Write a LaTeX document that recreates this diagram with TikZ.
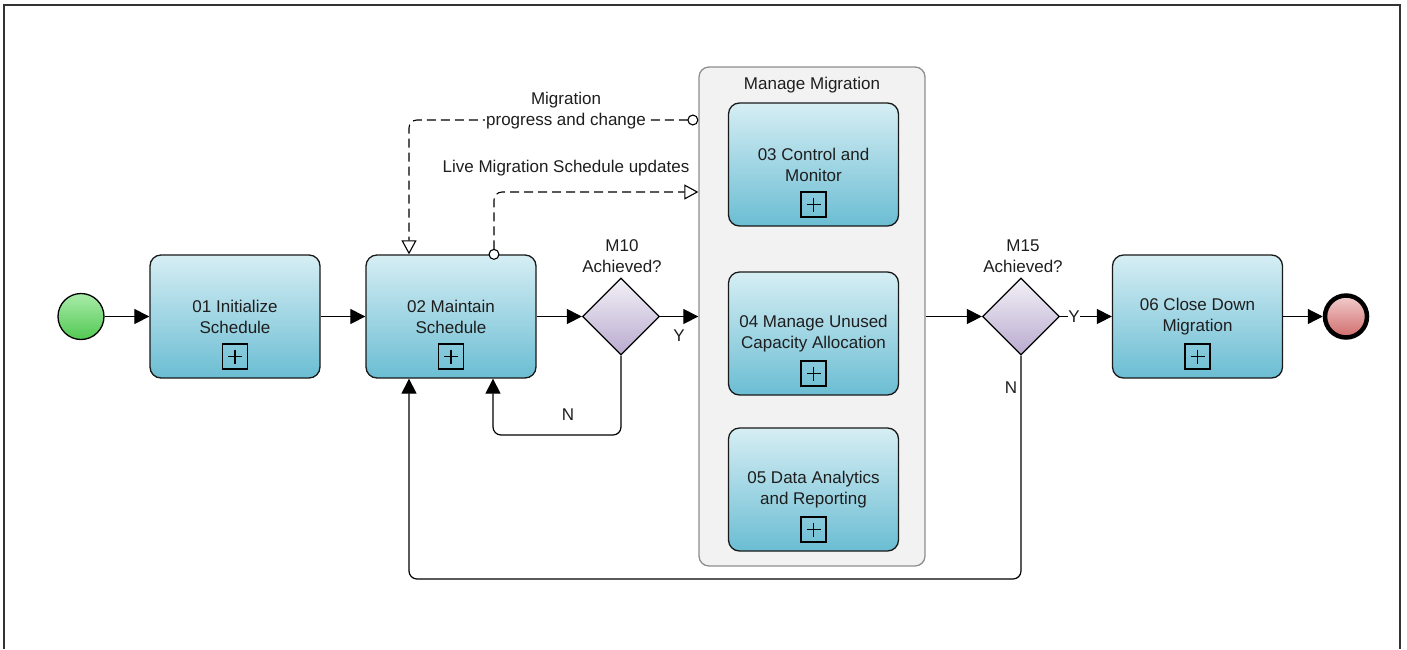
\documentclass[tikz,border=0pt]{standalone}
\usepackage{fontspec}
\setmainfont{Liberation Sans}
\usetikzlibrary{arrows.meta,shapes.geometric,calc}
\definecolor{taskTop}{HTML}{D6EEF4}
\definecolor{taskBot}{HTML}{6BBDD3}
\definecolor{gwTop}{HTML}{F3F1F7}
\definecolor{gwBot}{HTML}{B9AACF}
\definecolor{stTop}{HTML}{A9ECA9}
\definecolor{stBot}{HTML}{52C852}
\definecolor{enTop}{HTML}{F2CDCD}
\definecolor{enBot}{HTML}{D06B6B}
\definecolor{grpFill}{HTML}{F2F2F2}
\definecolor{grpDraw}{HTML}{8E8E8E}
\definecolor{txt}{HTML}{1E1E1E}
\definecolor{frame}{HTML}{333333}
\tikzset{
  lbl/.style={font=\fontsize{17pt}{21pt}\selectfont, text=txt, align=center, inner sep=1pt},
  task/.style={lbl, draw=black!90, line width=1.3pt, rounded corners=11pt, top color=taskTop, bottom color=taskBot, minimum width=170pt, minimum height=123pt, inner sep=2pt},
  plusbox/.style={draw=black, line width=1.3pt, minimum size=25pt, inner sep=0pt, anchor=south,
    path picture={\draw[line width=1.1pt] ($(path picture bounding box.center)+(-7,0)$) -- ($(path picture bounding box.center)+(7,0)$);
                  \draw[line width=1.1pt] ($(path picture bounding box.center)+(0,-7)$) -- ($(path picture bounding box.center)+(0,7)$);}},
  gw/.style={diamond, draw=black, line width=1.3pt, top color=gwTop, bottom color=gwBot, minimum width=77pt, minimum height=77pt, inner sep=0pt},
  flow/.style={line width=1.2pt, draw=black, -{Triangle[length=15pt,width=15pt]}},
  msg/.style={line width=1.1pt, draw=black, dash pattern=on 9pt off 5pt, rounded corners=8pt,
    {Circle[open,length=11pt,width=11pt,fill=white,line width=1.1pt]}-{Triangle[open,length=14pt,width=15pt,fill=white,line width=1.1pt]}},
  grpbox/.style={draw=grpDraw, line width=1.3pt, fill=grpFill, rounded corners=10pt, minimum width=226pt, minimum height=499pt, inner sep=0pt}
}
\begin{document}
\begin{tikzpicture}[x=1pt,y=-1pt]
\useasboundingbox (0,0) rectangle (1407,649);
\draw[line width=2.4pt, draw=frame] (4,649) -- (4,5) -- (1400,5) -- (1400,649);

% group
\node[grpbox] (grp) at (812,316.5) {};
\node[lbl] (grpt) at (812,85) {Manage Migration};

% events
\node[circle, draw=black, line width=1.3pt, top color=stTop, bottom color=stBot, minimum size=46pt, inner sep=0pt] (s) at (81,316.5) {};
\node[circle, draw=black, line width=4.5pt, top color=enTop, bottom color=enBot, minimum size=42pt, inner sep=0pt] (e) at (1346,316.5) {};

% tasks
\node[task] (t1) at (235,316.5) {01 Initialize\\Schedule};
\node[task] (t2) at (451,316.5) {02 Maintain\\Schedule};
\node[task] (t3) at (813.5,164.5) {03 Control and\\Monitor};
\node[task] (t4) at (813.5,333.5) {04 Manage Unused\\Capacity Allocation};
\node[task] (t5) at (813.5,489.5) {05 Data Analytics\\and Reporting};
\node[task] (t6) at (1197.5,316.5) {06 Close Down\\Migration};
\foreach \t in {t1,t2,t3,t4,t5,t6}{
  \node[plusbox] (p\t) at ([yshift=9pt]\t.south) {};
}

% gateways
\node[gw] (g1) at (621,316.5) {};
\node[lbl] (g1l) at (622,256) {M10\\Achieved?};
\node[gw] (g2) at (1021,316.5) {};
\node[lbl] (g2l) at (1023,256) {M15\\Achieved?};

% sequence flows
\draw[flow] (s) -- (t1);
\draw[flow] (t1) -- (t2);
\draw[flow] (t2) -- (g1);
\draw[flow] (g1.east) -- (g1.east -| grp.west);
\node[lbl] (y1) at (679,336) {Y};
\draw[flow] (g1.east -| grp.east) -- (g2.west);
\draw[flow] (g2.east) -- (t6.west);
\node[lbl, fill=white, inner sep=0.5pt] (y2) at (1074,316.5) {Y};
\draw[flow] (t6) -- (e);

\coordinate (n1) at (493,435);
\draw[flow, rounded corners=8pt] (g1.south) |- (n1) -- (n1 |- t2.south);
\node[lbl] (n1l) at (568,415) {N};
\coordinate (n2) at (409,579);
\draw[flow, rounded corners=8pt] (g2.south) |- (n2) -- (n2 |- t2.south);
\node[lbl] (n2l) at (1011,388) {N};

% message flows
\coordinate (m1) at (409,120);
\draw[msg] (grp.west |- m1) -- (m1) -- (m1 |- t2.north);
\node[lbl] (m1a) at (566,100) {Migration};
\node[lbl, fill=white, inner sep=1.5pt] (m1b) at (566,121) {progress and change};

\coordinate (m2) at (494,192);
\draw[msg] ($(m2 |- t2.north)+(0,5.5)$) -- (m2) -- (m2 -| grp.west);
\node[lbl] (m2l) at (566,168) {Live Migration Schedule updates};
\end{tikzpicture}
\end{document}
